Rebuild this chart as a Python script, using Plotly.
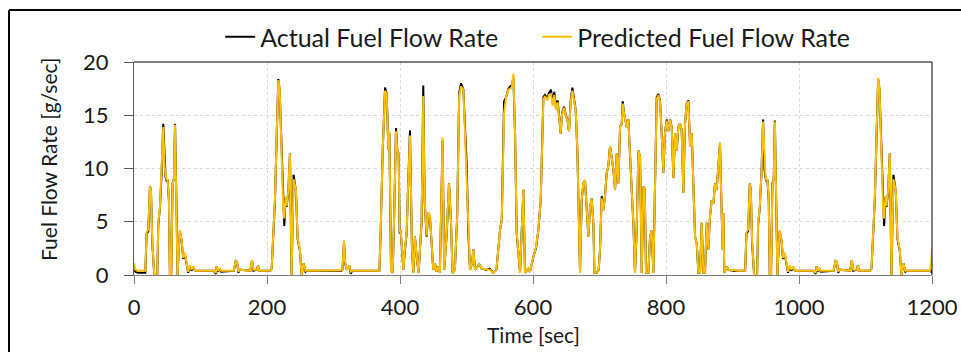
import plotly.graph_objects as go

# ---- data ----
time_sec = [
    0, 2, 6, 12, 17, 19, 21.5, 24, 25.5, 27.5, 29, 30.5, 35, 36.5, 39, 41.5, 44, 46, 47.5, 49,
    50.5, 52.5, 54, 56, 58, 60, 61.7, 63.5, 65.5, 67, 69, 71.5, 74, 76.5, 79, 81.5, 84, 86.5, 89, 92,
    120, 123, 124.5, 126, 129, 131, 150, 153, 155, 157, 159, 175, 177.5, 179.5, 185, 186.5, 188, 205, 207, 210,
    212, 215, 217, 219, 222, 224.5, 226, 228, 229.5, 232, 234.5, 237, 240, 243.5, 246, 249.5, 252, 255, 258, 260,
    312, 313.5, 315.8, 317.5, 320, 323.8, 325.8, 328, 369, 371, 374, 377.5, 380, 382.5, 384, 386.5, 389, 391, 394, 396,
    398, 399.5, 401, 403, 405, 407.5, 410, 412, 415, 416.5, 418, 420, 422.5, 425, 428, 430, 432.5, 435, 437, 440,
    442.5, 445, 447.5, 450, 452.5, 455, 457.5, 460, 464, 466.5, 470, 473.7, 476.7, 479, 482.5, 486, 489, 491.8, 495.3, 497.8,
    500.3, 502.8, 505.3, 508.3, 510.3, 512.8, 515.3, 519.3, 522.8, 530, 535, 540, 545, 550.4, 553, 556.5, 559.5, 563, 565.5, 568,
    570.5, 573, 575.5, 578, 580.5, 585.5, 588, 593, 595.5, 600.5, 604.5, 608, 611.6, 615.6, 618, 621.6, 624, 627, 629.6, 632,
    634.6, 637, 639.6, 641.6, 643.7, 646.7, 649.7, 651.7, 654.2, 656.7, 659.2, 661.7, 664.2, 666.7, 669.2, 670.7, 673.2, 675.7, 678.2, 680.8,
    683.3, 685.8, 688.3, 690.8, 692.3, 695.8, 698.8, 700.8, 703.3, 705.8, 708.3, 710.8, 713.3, 715.8, 718.4, 720.9, 723.4, 725.9, 728.4, 730.9,
    733.4, 734.9, 736.9, 738.9, 740.9, 743.4, 745.9, 748.4, 750.9, 753.4, 755.9, 758.5, 761, 762, 763.5, 766, 768, 770, 773.5, 776,
    778.5, 781, 783.5, 786, 788.5, 791, 793.5, 796, 798.5, 801, 803.6, 806.1, 808.6, 811.1, 813.6, 816.1, 818.6, 821.1, 823.6, 826.1,
    828.6, 831.1, 833.6, 836.2, 838.7, 841.2, 843.7, 846.2, 848.7, 851.2, 853.7, 856.2, 858.7, 861.2, 863.7, 866.2, 868.7, 871.2, 873.7, 876.2,
    878.8, 881.2, 883.7, 885.2, 886.2, 887.7, 891.2, 893.7, 899,
    902, 908, 914, 919, 921, 923.5, 926, 927.5, 929.5, 931, 932.5, 937, 938.5, 941, 943.5, 946, 948, 949.5, 951, 952.5,
    954.5, 956, 958, 960, 962, 963.7, 965.5, 967.5, 969, 971, 973.5, 976, 978.5, 981, 983.5, 986, 988.5, 991, 994, 1022,
    1025, 1026.5, 1028, 1031, 1033, 1052, 1055, 1057, 1059, 1061, 1077, 1079.5, 1081.5, 1087, 1088.5, 1090, 1107, 1109, 1112, 1114,
    1117, 1119, 1121, 1124, 1126.5, 1128, 1130, 1131.5, 1134, 1136.5, 1139, 1142, 1145.5, 1148, 1151.5, 1154, 1157, 1160, 1162, 1197,
    1199, 1200,
]

actual_flow = [
    0.7, 0.3, 0.2, 0.2, 0.2, 3.9, 4.1, 8.3, 8.0, 3.0, 1.5, 0.0, 0.0, 4.7, 6.3, 9.5, 14.2, 10.0, 9.2, 8.8,
    9.0, 7.0, 0.0, 0.0, 8.6, 9.0, 14.2, 8.0, 0.0, 2.0, 4.1, 3.3, 1.5, 2.0, 1.1, 0.2, 0.8, 0.4, 0.7, 0.4,
    0.4, 0.1, 0.8, 0.3, 0.6, 0.3, 0.4, 1.3, 1.2, 0.2, 0.5, 0.4, 1.4, 0.4, 0.5, 0.9, 0.4, 0.4, 0.6, 5.0,
    7.0, 14.0, 18.4, 17.4, 11.0, 6.0, 4.6, 7.3, 6.4, 7.8, 11.4, 0.0, 9.4, 7.9, 3.4, 2.3, 0.0, 1.1, 0.3, 0.4,
    0.4, 0.5, 3.1, 1.1, 0.5, 0.9, 0.1, 0.4, 0.4, 4.2, 11.7, 17.6, 17.0, 11.8, 13.3, 0.5, 0.2, 4.9, 13.8, 11.7,
    11.4, 3.9, 4.2, 2.4, 0.5, 2.4, 3.9, 8.0, 13.6, 8.0, 2.4, 0.2, 3.6, 1.7, 0.2, 2.4, 4.9, 17.8, 7.0, 3.6,
    5.8, 5.5, 3.0, 0.5, 1.1, 0.3, 0.8, 0.2, 12.6, 0.5, 3.6, 8.6, 4.9, 0.2, 0.5, 5.5, 17.1, 18.0, 17.4, 13.0,
    10.3, 3.9, 0.5, 1.1, 2.4, 0.5, 0.7, 1.0, 0.6, 0.5, 0.6, 0.2, 0.5, 4.2, 5.2, 16.3, 16.7, 17.5, 17.7, 17.8,
    18.5, 13.3, 3.9, 1.7, 0.2, 8.0, 0.2, 0.6, 0.3, 1.7, 2.5, 4.2, 7.0, 16.7, 16.9, 16.6, 17.1, 17.4, 16.1, 17.2,
    15.7, 16.4, 14.9, 13.3, 15.2, 15.8, 14.9, 14.6, 13.5, 16.4, 17.6, 16.4, 15.5, 11.7, 6.1, 0.2, 7.0, 8.6, 8.9, 6.4,
    3.6, 6.4, 7.2, 4.9, 0.2, 0.2, 0.5, 2.4, 7.4, 6.1, 7.4, 9.6, 10.2, 12.1, 11.1, 9.9, 8.0, 11.4, 8.6, 13.9,
    14.2, 16.3, 15.2, 14.6, 13.9, 14.6, 10.8, 8.0, 4.9, 0.2, 4.2, 11.7, 11.1, 8.0, 0.2, 8.3, 8.1, 0.2, 0.2, 3.6,
    4.2, 0.2, 10.5, 16.7, 17.0, 16.4, 13.3, 9.6, 13.3, 14.6, 13.5, 14.6, 13.9, 9.1, 13.3, 11.7, 13.9, 14.2, 13.6, 7.7,
    14.2, 16.1, 16.4, 12.1, 13.3, 8.0, 3.6, 3.0, 0.2, 0.2, 4.9, 0.2, 0.2, 4.9, 2.4, 5.5, 7.0, 6.7, 8.6, 8.0,
    10.2, 12.4, 5.8, 2.4, 5.8, 0.2, 0.8, 0.5, 0.4,
    0.4, 0.4, 0.4, 0.4, 3.9, 4.1, 8.6, 8.0, 3.0, 1.5, 0.0, 0.0, 4.7, 6.3, 9.5, 14.6, 10.0, 9.2, 8.8, 9.0,
    7.0, 0.0, 0.0, 8.6, 9.0, 14.5, 8.0, 0.0, 2.0, 4.1, 3.3, 1.5, 2.0, 1.1, 0.2, 0.8, 0.4, 0.7, 0.4, 0.4,
    0.1, 0.8, 0.3, 0.6, 0.3, 0.4, 1.3, 1.2, 0.2, 0.5, 0.4, 1.4, 0.4, 0.5, 0.9, 0.4, 0.4, 0.6, 5.0, 7.0,
    14.0, 18.4, 17.4, 11.0, 6.0, 4.6, 7.3, 6.4, 7.8, 11.4, 0.0, 9.4, 7.9, 3.4, 2.3, 0.0, 1.1, 0.3, 0.4, 0.4,
    0.3, 0.5,
]

predicted_flow = [
    1.1, 0.5, 0.4, 0.4, 0.4, 4.0, 4.3, 8.3, 8.0, 3.2, 1.7, 0.0, 0.0, 4.8, 6.4, 9.5, 13.9, 10.2, 9.3, 8.9,
    9.0, 7.2, 0.0, 0.0, 8.5, 9.0, 14.1, 8.0, 0.0, 2.0, 4.2, 3.4, 1.6, 2.1, 1.2, 0.3, 0.9, 0.5, 0.8, 0.4,
    0.4, 0.2, 0.8, 0.4, 0.6, 0.4, 0.4, 1.3, 1.2, 0.3, 0.5, 0.4, 1.4, 0.5, 0.5, 0.9, 0.4, 0.4, 0.6, 5.2,
    7.2, 14.0, 18.3, 17.6, 11.2, 6.2, 5.3, 7.4, 6.5, 7.9, 11.4, 0.0, 9.0, 8.0, 3.5, 2.4, 0.0, 1.1, 0.4, 0.4,
    0.45, 0.5, 3.2, 1.2, 0.5, 0.9, 0.3, 0.4, 0.4, 4.3, 11.7, 17.3, 17.0, 11.8, 13.5, 0.5, 0.2, 5.0, 13.5, 11.7,
    11.4, 4.0, 4.2, 2.5, 0.5, 2.5, 4.0, 8.0, 13.1, 8.0, 2.5, 0.2, 3.6, 1.8, 0.2, 2.4, 5.0, 16.8, 7.2, 3.7,
    5.9, 5.6, 3.0, 0.5, 1.1, 0.3, 0.8, 0.2, 12.9, 0.5, 3.7, 8.6, 5.0, 0.2, 0.5, 5.5, 16.8, 17.7, 17.4, 13.0,
    10.0, 4.0, 0.5, 1.1, 2.4, 0.5, 0.7, 1.0, 0.6, 0.5, 0.5, 0.2, 0.5, 4.2, 5.2, 15.2, 16.7, 17.4, 17.5, 17.6,
    18.9, 13.3, 4.0, 1.7, 0.2, 8.0, 0.2, 0.6, 0.3, 1.7, 2.6, 4.2, 7.0, 16.5, 16.8, 16.4, 16.9, 17.0, 15.9, 16.9,
    15.5, 16.2, 14.8, 13.3, 15.1, 15.7, 14.8, 14.6, 13.5, 16.2, 17.3, 16.3, 15.5, 11.7, 6.1, 0.2, 7.0, 8.6, 8.9, 6.4,
    3.6, 6.4, 7.2, 4.9, 0.2, 0.2, 0.5, 2.4, 7.2, 6.1, 7.4, 9.6, 10.2, 12.1, 11.1, 9.9, 8.0, 11.4, 8.6, 13.9,
    14.2, 16.1, 15.2, 14.6, 13.9, 14.6, 10.8, 8.0, 4.9, 0.2, 4.2, 11.7, 11.1, 8.0, 0.2, 8.3, 8.1, 0.2, 0.2, 3.6,
    4.2, 0.2, 10.5, 16.5, 16.9, 16.3, 13.3, 9.6, 13.3, 14.5, 13.5, 14.6, 13.9, 9.1, 13.3, 11.7, 13.9, 14.2, 13.6, 7.7,
    14.2, 16.1, 16.3, 12.1, 13.3, 8.0, 3.6, 3.0, 0.2, 0.2, 4.9, 0.2, 0.2, 4.9, 2.4, 5.5, 7.0, 6.7, 8.6, 8.0,
    10.2, 12.4, 5.8, 2.4, 5.8, 0.2, 0.8, 0.5, 0.4,
    0.5, 0.4, 0.4, 0.4, 4.0, 4.3, 8.6, 8.0, 3.2, 1.7, 0.0, 0.0, 4.8, 6.4, 9.5, 14.4, 10.2, 9.3, 8.9, 9.0,
    7.2, 0.0, 0.0, 8.5, 9.0, 14.4, 8.0, 0.0, 2.0, 4.2, 3.4, 1.6, 2.1, 1.2, 0.3, 0.9, 0.5, 0.8, 0.4, 0.4,
    0.2, 0.8, 0.4, 0.6, 0.4, 0.4, 1.3, 1.2, 0.3, 0.5, 0.4, 1.4, 0.5, 0.5, 0.9, 0.4, 0.4, 0.6, 5.2, 7.2,
    14.0, 18.5, 17.6, 11.2, 6.2, 5.3, 7.4, 6.5, 7.9, 11.4, 0.0, 9.0, 8.0, 3.5, 2.4, 0.0, 1.1, 0.4, 0.4, 0.4,
    1.2, 2.6,
]

x_ticks = [0, 200, 400, 600, 800, 1000, 1200]
y_ticks = [0, 5, 10, 15, 20]

FONT = "Lato"
TXT = "#1a1a1a"

fig = go.Figure()
fig.add_trace(go.Scatter(x=time_sec, y=actual_flow, mode="lines", name="Actual Fuel Flow Rate",
                         line=dict(color="#000000", width=2)))
fig.add_trace(go.Scatter(x=time_sec, y=predicted_flow, mode="lines", name="Predicted Fuel Flow Rate",
                         line=dict(color="#FFC000", width=2)))

fig.update_layout(
    width=961, height=352,
    margin=dict(l=134, r=29, t=62, b=77, pad=0, autoexpand=False),
    paper_bgcolor="white", plot_bgcolor="white",
    font=dict(family=FONT, size=22, color=TXT),
    showlegend=True,
    legend=dict(orientation="h", x=0.108, y=1.117, xanchor="left", yanchor="middle",
                font=dict(family=FONT, size=25, color=TXT), bgcolor="rgba(0,0,0,0)",
                itemwidth=30, entrywidth=272, entrywidthmode="pixels"),
    xaxis=dict(range=[0, 1200], tickvals=x_ticks, ticks="outside", ticklen=8, tickcolor="#7f7f7f",
               showline=True, linecolor="#7f7f7f", linewidth=1, showgrid=True, gridcolor="#d9d9d9",
               griddash="dot", gridwidth=1, zeroline=False, automargin=False,
               tickfont=dict(family=FONT, size=22, color=TXT), ticklabelstandoff=5),
    yaxis=dict(range=[0, 20], tickvals=y_ticks, ticks="outside", ticklen=9, tickcolor="#595959",
               showline=True, linecolor="#595959", linewidth=1, showgrid=True, gridcolor="#d9d9d9",
               griddash="dot", gridwidth=1, zeroline=False, automargin=False,
               tickfont=dict(family=FONT, size=22, color=TXT), ticklabelstandoff=11),
)

# axis titles
fig.add_annotation(text="Time [sec]", xref="paper", yref="paper", x=0.5, y=(275 - 334) / 213,
                   showarrow=False, xanchor="center", yanchor="middle",
                   font=dict(family=FONT, size=21, color=TXT))
fig.add_annotation(text="Fuel Flow Rate [g/sec]", xref="paper", yref="paper", x=(48 - 134) / 798, y=(275 - 160) / 213,
                   showarrow=False, xanchor="center", yanchor="middle", textangle=-90,
                   font=dict(family=FONT, size=21, color=TXT))

# plot frame top and right
fig.add_shape(type="line", xref="paper", yref="paper", x0=0, x1=1, y0=1, y1=1,
              line=dict(color="#000000", width=1))
fig.add_shape(type="line", xref="paper", yref="paper", x0=1, x1=1, y0=0, y1=1,
              line=dict(color="#000000", width=1))
# outer chart border (left and top visible)
fig.add_shape(type="line", xref="paper", yref="paper", x0=(9 - 134) / 798, x1=(975 - 134) / 798,
              y0=(275 - 10) / 213, y1=(275 - 10) / 213, line=dict(color="#000000", width=2))
fig.add_shape(type="line", xref="paper", yref="paper", x0=(9 - 134) / 798, x1=(9 - 134) / 798,
              y0=(275 - 10) / 213, y1=(275 - 370) / 213, line=dict(color="#000000", width=2))

fig.write_html("out.html")
